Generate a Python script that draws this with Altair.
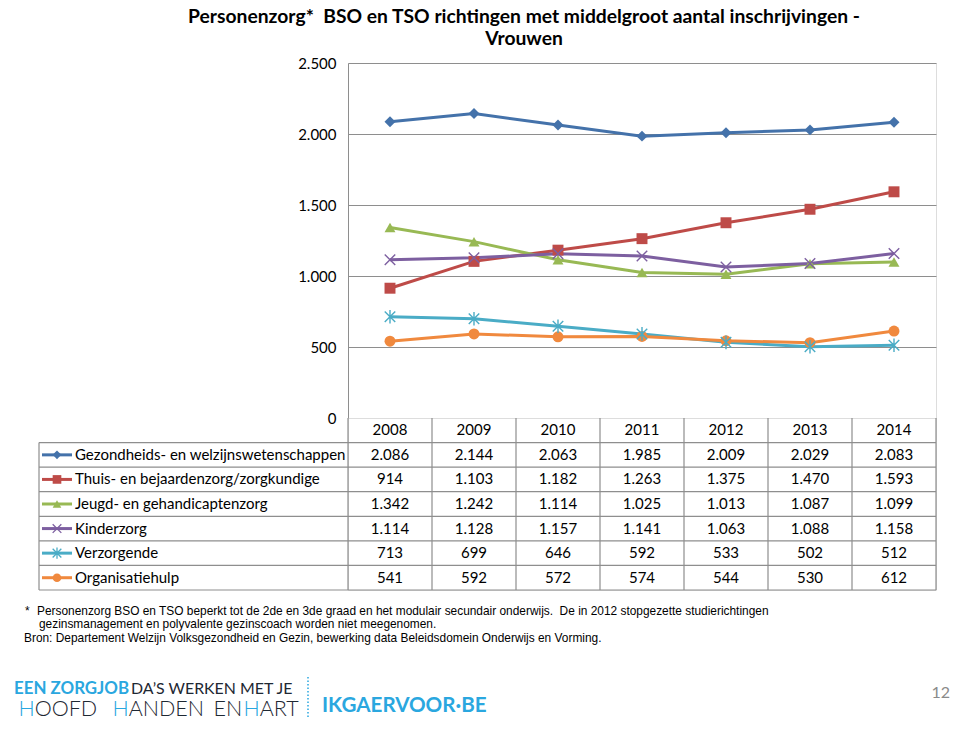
import altair as alt
import pandas as pd

# ---------------- data ----------------
years = ["2008", "2009", "2010", "2011", "2012", "2013", "2014"]
series = [
    "Gezondheids- en welzijnswetenschappen",
    "Thuis- en bejaardenzorg/zorgkundige",
    "Jeugd- en gehandicaptenzorg",
    "Kinderzorg",
    "Verzorgende",
    "Organisatiehulp",
]
gezondheid = [2086, 2144, 2063, 1985, 2009, 2029, 2083]
thuis = [914, 1103, 1182, 1263, 1375, 1470, 1593]
jeugd = [1342, 1242, 1114, 1025, 1013, 1087, 1099]
kinder = [1114, 1128, 1157, 1141, 1063, 1088, 1158]
verzorgende = [713, 699, 646, 592, 533, 502, 512]
organisatie = [541, 592, 572, 574, 544, 530, 612]
y_ticks = [0, 500, 1000, 1500, 2000, 2500]

title_lines = [
    "Personenzorg*\u00a0 BSO en TSO richtingen met middelgroot aantal inschrijvingen -",
    "Vrouwen",
]
footnotes = [
    "Personenzorg BSO en TSO beperkt tot de 2de en 3de graad en het modulair secundair onderwijs.\u00a0 De in 2012 stopgezette studierichtingen",
    "gezinsmanagement en polyvalente gezinscoach worden niet meegenomen.",
    "Bron: Departement Welzijn Volksgezondheid en Gezin, bewerking data Beleidsdomein Onderwijs en Vorming.",
]
page_number = "12"

colors = ["#4472AA", "#BE4B48", "#98B954", "#7D5FA0", "#4AACC6", "#F0893E"]
X_PATH = "M-1,-1L1,1M-1,1L1,-1"
STAR_PATH = "M-1,-1L1,1M-1,1L1,-1M0,-1.3L0,1.3"
shapes = ["diamond", "square", "triangle-up", X_PATH, STAR_PATH, "circle"]

values = [gezondheid, thuis, jeugd, kinder, verzorgende, organisatie]
rows = []
for s, vals in zip(series, values):
    for y, v in zip(years, vals):
        rows.append({"series": s, "year": y, "value": v,
                     "label": f"{v:,}".replace(",", ".")})
df = pd.DataFrame(rows)

cells = [{"row": "hdr", "year": y, "label": y} for y in years]
cells += [{"row": r["series"], "year": r["year"], "label": r["label"]} for r in rows]
cells_df = pd.DataFrame(cells)
rows_df = pd.DataFrame({"row": series, "series": series})
years_df = pd.DataFrame({"year": years})

# ---------------- layout constants ----------------
FONT = "Lato"
W, H1, H2 = 588, 355, 172
OX, OY = 348, 419            # page position of the table origin
GRID = "#8E8E8E"
filled = [series[i] for i in (0, 1, 2, 5)]
stroked = [series[i] for i in (3, 4)]

color = alt.Color("series:N", scale=alt.Scale(domain=series, range=colors), legend=None)
shape = alt.Shape("series:N", scale=alt.Scale(domain=series, range=shapes), legend=None)

# ---------------- line chart ----------------
xl = alt.X("year:N", scale=alt.Scale(type="point", domain=years, padding=0.5), axis=None)
yl = alt.Y("value:Q",
           scale=alt.Scale(domain=[0, 2500], nice=False),
           axis=alt.Axis(values=y_ticks,
                         labelExpr="replace(format(datum.value, ',d'), ',', '.')",
                         ticks=False, grid=True, gridColor=GRID, domainColor=GRID,
                         labelFont=FONT, labelFontSize=15, labelColor="black",
                         labelPadding=12, title=None))
base = alt.Chart(df).encode(x=xl, y=yl, color=color)
lines = base.mark_line(strokeWidth=3)
pts_f = base.mark_point(filled=True, size=120, opacity=1).encode(shape=shape).transform_filter(
    alt.FieldOneOfPredicate(field="series", oneOf=filled))
pts_s = base.mark_point(filled=False, size=110, strokeWidth=1.4, opacity=1).encode(shape=shape).transform_filter(
    alt.FieldOneOfPredicate(field="series", oneOf=stroked))
line_chart = alt.layer(lines, pts_f, pts_s).properties(width=W, height=H1)

# ---------------- table ----------------
xs = alt.Scale(domain=years, paddingInner=0, paddingOuter=0)
ysc = alt.Scale(domain=["hdr"] + series, paddingInner=0, paddingOuter=0)

cell_text = alt.Chart(cells_df).mark_text(font=FONT, fontSize=15, color="black").encode(
    x=alt.X("year:N", scale=xs, axis=None, bandPosition=0.5),
    y=alt.Y("row:N", scale=ysc, axis=None, bandPosition=0.5),
    text="label:N")
row_labels = alt.Chart(rows_df).mark_text(font=FONT, fontSize=15, color="black", align="left").encode(
    x=alt.value(-273),
    y=alt.Y("row:N", scale=ysc, axis=None, bandPosition=0.5),
    text="row:N")
leg_lines = alt.Chart(rows_df).mark_rule(strokeWidth=3).encode(
    x=alt.value(-306), x2=alt.value(-276),
    y=alt.Y("row:N", scale=ysc, axis=None, bandPosition=0.5), color=color)
leg_f = alt.Chart(rows_df).mark_point(filled=True, size=75, opacity=1).encode(
    x=alt.value(-291), y=alt.Y("row:N", scale=ysc, axis=None, bandPosition=0.5),
    color=color, shape=shape).transform_filter(alt.FieldOneOfPredicate(field="series", oneOf=filled))
leg_s = alt.Chart(rows_df).mark_point(filled=False, size=75, strokeWidth=1.3, opacity=1).encode(
    x=alt.value(-291), y=alt.Y("row:N", scale=ysc, axis=None, bandPosition=0.5),
    color=color, shape=shape).transform_filter(alt.FieldOneOfPredicate(field="series", oneOf=stroked))

h_rules = alt.Chart(rows_df).mark_rule(color=GRID, strokeWidth=1.2).encode(
    x=alt.value(-309), x2=alt.value(W),
    y=alt.Y("row:N", scale=ysc, axis=None, bandPosition=0))
h_bottom = alt.Chart(rows_df.tail(1)).mark_rule(color=GRID, strokeWidth=1.2).encode(
    x=alt.value(-309), x2=alt.value(W),
    y=alt.Y("row:N", scale=ysc, axis=None, bandPosition=1))
v_rules = alt.Chart(years_df).mark_rule(color=GRID, strokeWidth=1.2).encode(
    x=alt.X("year:N", scale=xs, axis=None, bandPosition=0),
    y=alt.value(0), y2=alt.value(H2))
v_right = alt.Chart(years_df.tail(1)).mark_rule(color=GRID, strokeWidth=1.2).encode(
    x=alt.X("year:N", scale=xs, axis=None, bandPosition=1),
    y=alt.value(0), y2=alt.value(H2))
v_left = alt.Chart(rows_df.head(1)).mark_rule(color=GRID, strokeWidth=1.2).encode(
    x=alt.value(-309),
    y=alt.Y("row:N", scale=ysc, axis=None, bandPosition=0), y2=alt.value(H2))


def note(text, px, py, align="left", **style):
    return alt.Chart(pd.DataFrame({"t": [text]})).mark_text(
        align=align, baseline="alphabetic", **style).encode(
        text="t:N", x=alt.value(px - OX), y=alt.value(py - OY))


NOTE = dict(font="Liberation Sans", fontSize=11.9, color="black")
LIGHT = "#2AA7DF"
DARK = "#1E2833"
L2 = dict(font=FONT, fontSize=21.5, fontWeight=300)
HADV = 0.73 * 21.5
extras = [
    note("*", 25, 616, **NOTE),
    note(footnotes[0], 37, 616, **NOTE),
    note(footnotes[1], 39, 629, **NOTE),
    note(footnotes[2], 24, 643, **NOTE),
    note("EEN ZORGJOB", 14, 695, font=FONT, fontSize=16.9, fontWeight="bold", color=LIGHT),
    note("DA\u2019S WERKEN MET JE", 131, 695, font=FONT, fontSize=15.9, color=DARK),
    note("H", 19 + HADV, 717, align="right", color=LIGHT, **L2),
    note("OOFD", 19 + HADV, 717, color=DARK, **L2),
    note("H", 113 + HADV, 717, align="right", color=LIGHT, **L2),
    note("ANDEN", 113 + HADV, 717, color=DARK, **L2),
    note("EN", 213.5, 717, color=DARK, **L2),
    note("H", 244 + HADV, 717, align="right", color=LIGHT, **L2),
    note("ART", 244 + HADV, 717, color=DARK, **L2),
    note("IKGAERVOOR\u00b7BE", 322, 713, font=FONT, fontSize=20.6, fontWeight="bold", color=LIGHT),
    note(page_number, 950, 699, align="right", font=FONT, fontSize=16, color="#8A8A8A"),
    alt.Chart(pd.DataFrame({"t": [0]})).mark_rule(color=LIGHT, strokeWidth=1.5, strokeDash=[1.5, 2]).encode(
        x=alt.value(308 - OX), y=alt.value(678 - OY), y2=alt.value(719 - OY)),
    # invisible anchor fixing the left extent of the drawing
    alt.Chart(pd.DataFrame({"t": [0]})).mark_rule(opacity=0).encode(
        x=alt.value(12 - OX), y=alt.value(600 - OY), y2=alt.value(601 - OY)),
]

table = alt.layer(h_rules, h_bottom, v_rules, v_right, v_left, leg_lines, leg_f, leg_s,
                  cell_text, row_labels, *extras).properties(width=W, height=H2)

chart = alt.vconcat(line_chart, table, spacing=0, bounds="flush").properties(
    title=alt.TitleParams(title_lines, font=FONT, fontSize=19.3, fontWeight="bold",
                          color="black", anchor="middle", lineHeight=22, offset=6, dx=43),
    padding={"left": 3, "top": 0, "right": 0, "bottom": 0},
).configure_view(stroke=None).configure(background="white")

chart.save("out.html", embed_options={"renderer": "svg", "actions": False})
